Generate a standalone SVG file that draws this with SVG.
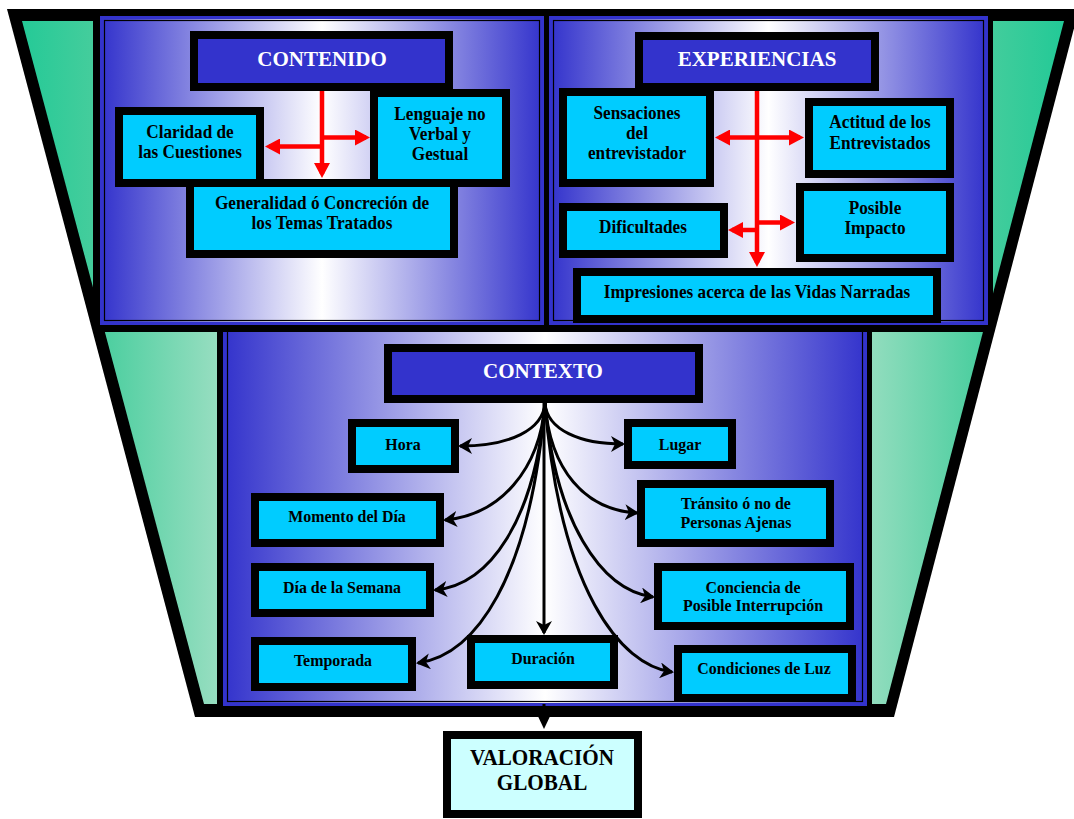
<svg xmlns="http://www.w3.org/2000/svg" width="1074" height="819" viewBox="0 0 1074 819">
  <defs>
    <linearGradient id="g-panel" x1="0" y1="0" x2="1" y2="0">
      <stop offset="0" stop-color="#3333cc"/>
      <stop offset="0.5" stop-color="#ffffff"/>
      <stop offset="1" stop-color="#3333cc"/>
    </linearGradient>
    <linearGradient id="g-green" gradientUnits="userSpaceOnUse" x1="7" y1="0" x2="1074" y2="0">
      <stop offset="0" stop-color="#1ec996"/>
      <stop offset="0.08" stop-color="#44cd9c"/>
      <stop offset="0.2" stop-color="#99dec1"/>
      <stop offset="0.5" stop-color="#ffffff"/>
      <stop offset="0.8" stop-color="#99dec1"/>
      <stop offset="0.92" stop-color="#44cd9c"/>
      <stop offset="1" stop-color="#1ec996"/>
    </linearGradient>
    <marker id="ah-red" markerUnits="userSpaceOnUse" markerWidth="16" markerHeight="16" refX="11" refY="8" orient="auto">
      <path d="M0,0 L15,8 L0,16 z" fill="#ff0000"/>
    </marker>
    <marker id="ah-black" markerUnits="userSpaceOnUse" markerWidth="14" markerHeight="16" refX="12" refY="8" orient="auto">
      <path d="M0,0 L14,8 L0,16 L4,8 z" fill="#000"/>
    </marker>
  </defs>
  <style>
    .panel { fill: url(#g-panel); stroke: #3333cc; stroke-width: 3; }
    .panel-line { fill: none; stroke: #000; stroke-width: 1.2; }
    .box { fill: #00ccff; stroke: #000; stroke-width: 8; }
    .hdr { fill: #3333cc; stroke: #000; stroke-width: 8; }
    .final { fill: #ccffff; stroke: #000; stroke-width: 8; }
    .t { font-family: "Liberation Serif", "Times New Roman", serif; font-weight: bold; text-anchor: middle; fill: #000; }
    .t1 { font-size: 18.5px; }
    .t2 { font-size: 17.5px; }
    .h { font-size: 21px; fill: #fff; }
    .red { fill: none; stroke: #ff0000; stroke-width: 4.5; marker-end: url(#ah-red); }
    .blk { fill: none; stroke: #000; stroke-width: 3; marker-end: url(#ah-black); }
  </style>

  <!-- funnel frame -->
  <g id="funnel">
    <polygon points="7,9 1079,9 894,717 195,717" fill="#000"/>
    <polygon points="22,21 1064,21 886,704 204,704" fill="url(#g-green)"/>
    <rect x="217" y="330" width="655" height="387" fill="#000"/>
  </g>

  <!-- lower panel -->
  <g id="panel-contexto">
    <rect class="panel" x="224.5" y="327.5" width="641" height="377"/>
    <rect class="panel-line" x="227.5" y="330.5" width="635" height="371"/>
  </g>

  <!-- upper frame and panels -->
  <rect x="93" y="9" width="900" height="323" fill="#000"/>
  <g id="panel-contenido">
    <rect class="panel" x="101.5" y="17.5" width="441" height="306"/>
    <rect class="panel-line" x="104.5" y="20.5" width="435" height="300"/>
  </g>
  <g id="panel-experiencias">
    <rect class="panel" x="550.5" y="17.5" width="436" height="306"/>
    <rect class="panel-line" x="553.5" y="20.5" width="430" height="300"/>
  </g>

  <!-- CONTENIDO nodes -->
  <g id="contenido">
    <rect class="hdr" x="194" y="35" width="255" height="52"/>
    <text class="t h" x="322" y="66">CONTENIDO</text>
  </g>
  <g id="claridad">
    <rect class="box" x="119" y="111" width="141" height="72"/>
    <text class="t t1" transform="translate(190 0) scale(.93 1)"><tspan x="0" y="138">Claridad de</tspan><tspan x="0" y="158">las Cuestiones</tspan></text>
  </g>
  <g id="lenguaje">
    <rect class="box" x="374" y="93" width="132" height="90"/>
    <text class="t t1" transform="translate(440 0) scale(.93 1)"><tspan x="0" y="120">Lenguaje no</tspan><tspan x="0" y="140">Verbal y</tspan><tspan x="0" y="160">Gestual</tspan></text>
  </g>
  <g id="generalidad">
    <rect class="box" x="190" y="183" width="264" height="71"/>
    <text class="t t1" transform="translate(322 0) scale(.93 1)"><tspan x="0" y="209">Generalidad ó Concreción de</tspan><tspan x="0" y="229">los Temas Tratados</tspan></text>
  </g>

  <!-- EXPERIENCIAS nodes -->
  <g id="experiencias">
    <rect class="hdr" x="639" y="36" width="236" height="51"/>
    <text class="t h" x="757" y="66">EXPERIENCIAS</text>
  </g>
  <g id="sensaciones">
    <rect class="box" x="563" y="92" width="147" height="91"/>
    <text class="t t1" transform="translate(637 0) scale(.93 1)"><tspan x="0" y="119">Sensaciones</tspan><tspan x="0" y="139">del</tspan><tspan x="0" y="159">entrevistador</tspan></text>
  </g>
  <g id="actitud">
    <rect class="box" x="809" y="102" width="141" height="72"/>
    <text class="t t1" transform="translate(880 0) scale(.93 1)"><tspan x="0" y="128">Actitud de los</tspan><tspan x="0" y="149">Entrevistados</tspan></text>
  </g>
  <g id="dificultades">
    <rect class="box" x="563" y="207" width="161" height="47"/>
    <text class="t t1" transform="translate(643 0) scale(.93 1)" x="0" y="233">Dificultades</text>
  </g>
  <g id="impacto">
    <rect class="box" x="800" y="187" width="150" height="71"/>
    <text class="t t1" transform="translate(875 0) scale(.93 1)"><tspan x="0" y="214">Posible</tspan><tspan x="0" y="234">Impacto</tspan></text>
  </g>
  <g id="impresiones">
    <rect class="box" x="577" y="272" width="360" height="47"/>
    <text class="t t1" transform="translate(757 0) scale(.93 1)" x="0" y="298">Impresiones acerca de las Vidas Narradas</text>
  </g>

  <!-- CONTEXTO nodes -->
  <g id="contexto">
    <rect class="hdr" x="388" y="348" width="311" height="51"/>
    <text class="t h" x="543" y="378">CONTEXTO</text>
  </g>
  <g id="hora">
    <rect class="box" x="352" y="423" width="103" height="46"/>
    <text class="t t2" transform="translate(403 0) scale(.91 1)" x="0" y="450">Hora</text>
  </g>
  <g id="lugar">
    <rect class="box" x="628" y="423" width="104" height="42"/>
    <text class="t t2" transform="translate(680 0) scale(.91 1)" x="0" y="450">Lugar</text>
  </g>
  <g id="momento">
    <rect class="box" x="255" y="497" width="185" height="46"/>
    <text class="t t2" transform="translate(347 0) scale(.91 1)" x="0" y="522">Momento del Día</text>
  </g>
  <g id="transito">
    <rect class="box" x="641" y="484" width="189" height="59"/>
    <text class="t t2" transform="translate(736 0) scale(.91 1)"><tspan x="0" y="509">Tránsito ó no de</tspan><tspan x="0" y="528">Personas Ajenas</tspan></text>
  </g>
  <g id="dia">
    <rect class="box" x="255" y="567" width="175" height="46"/>
    <text class="t t2" transform="translate(342 0) scale(.91 1)" x="0" y="593">Día de la Semana</text>
  </g>
  <g id="conciencia">
    <rect class="box" x="658" y="567" width="192" height="59"/>
    <text class="t t2" transform="translate(753 0) scale(.91 1)"><tspan x="0" y="593">Conciencia de</tspan><tspan x="0" y="611">Posible Interrupción</tspan></text>
  </g>
  <g id="temporada">
    <rect class="box" x="255" y="641" width="157" height="46"/>
    <text class="t t2" transform="translate(333 0) scale(.91 1)" x="0" y="666">Temporada</text>
  </g>
  <g id="duracion">
    <rect class="box" x="471" y="639" width="143" height="46"/>
    <text class="t t2" transform="translate(543 0) scale(.91 1)" x="0" y="664">Duración</text>
  </g>
  <g id="condiciones">
    <rect class="box" x="678" y="649" width="174" height="49"/>
    <text class="t t2" transform="translate(764 0) scale(.91 1)" x="0" y="674">Condiciones de Luz</text>
  </g>

  <!-- result node -->
  <g id="valoracion">
    <rect class="final" x="447" y="735" width="191" height="79"/>
    <text class="t" style="font-size:22.5px" transform="translate(542 0) scale(.94 1)"><tspan x="0" y="765">VALORACIÓN</tspan><tspan x="0" y="790">GLOBAL</tspan></text>
  </g>

  <!-- connectors -->
  <g id="connectors">
    <path class="red" d="M322,91 L322,174"/>
    <path class="red" d="M322,146.5 L269,146.5"/>
    <path class="red" d="M322,137.5 L366,137.5"/>
    <path class="red" d="M757,91 L757,263"/>
    <path class="red" d="M757,137.5 L719,137.5"/>
    <path class="red" d="M757,137.5 L800,137.5"/>
    <path class="red" d="M757,230 L732,230"/>
    <path class="red" d="M757,222.5 L791,222.5"/>

    <path class="blk" d="M545,403 C543,430 510,446 460,446"/>
    <path class="blk" d="M545,403 C547,430 580,444 623,444"/>
    <path class="blk" d="M545,403 C540,470 500,515 445,520"/>
    <path class="blk" d="M545,403 C550,470 585,510 637,513"/>
    <path class="blk" d="M545,403 C535,520 490,585 435,590"/>
    <path class="blk" d="M545,403 C555,520 600,590 653,597"/>
    <path class="blk" d="M545,403 C530,580 475,655 418,663"/>
    <path class="blk" d="M545,403 C560,590 620,665 672,672"/>
    <path class="blk" d="M544,403 L544,633"/>

    <path d="M544,704 L544,712" stroke="#000" stroke-width="3"/>
    <path d="M535,710 L553,710 L544,729 z" fill="#000"/>
  </g>
</svg>
